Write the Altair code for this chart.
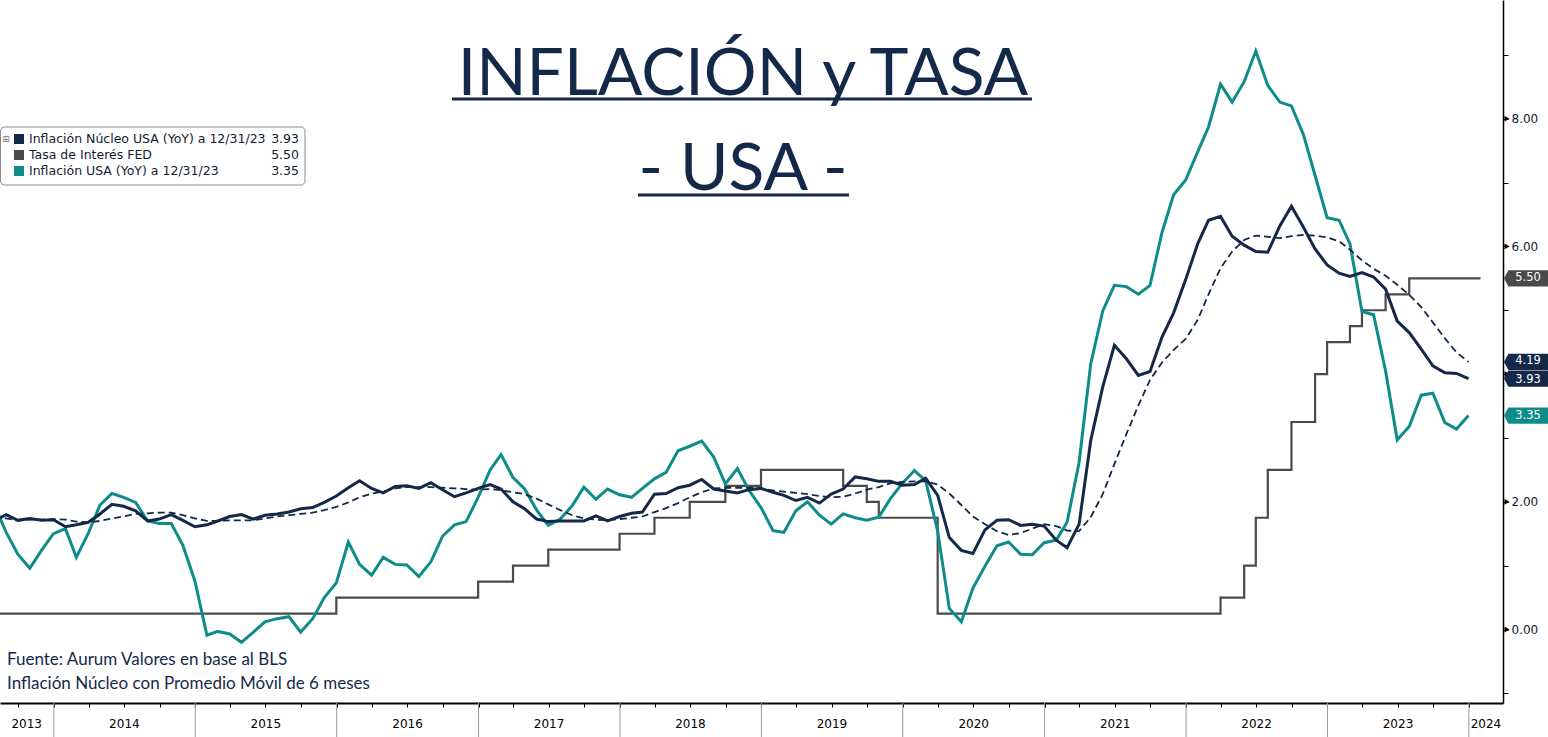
import altair as alt
import pandas as pd

NAVY = "#14294a"
TEAL = "#0e8c8a"
GRAY = "#4a4a4a"
TXT = "#111c33"
LBL_FONT = "DejaVu Sans"
TITLE_FONT = "Lato"

# Monthly values, month-end, Jul 2013 .. Dec 2023
cpi = [
    1.96, 1.52, 1.18, 0.96, 1.24, 1.50,
    1.58, 1.13, 1.51, 1.95, 2.13, 2.07, 1.99, 1.70, 1.66, 1.66, 1.32, 0.76,
    -0.09, -0.03, -0.07, -0.20, -0.04, 0.12, 0.17, 0.20, -0.04, 0.17, 0.50, 0.73,
    1.37, 1.02, 0.85, 1.13, 1.02, 1.01, 0.83, 1.06, 1.46, 1.64, 1.69, 2.07,
    2.50, 2.74, 2.38, 2.20, 1.87, 1.63, 1.73, 1.94, 2.23, 2.04, 2.20, 2.11,
    2.07, 2.21, 2.36, 2.46, 2.80, 2.87, 2.95, 2.70, 2.28, 2.52, 2.18, 1.91,
    1.55, 1.52, 1.86, 2.00, 1.79, 1.65, 1.81, 1.75, 1.71, 1.76, 2.05, 2.29,
    2.49, 2.33, 1.54, 0.33, 0.12, 0.65, 0.99, 1.31, 1.37, 1.18, 1.17, 1.36,
    1.40, 1.68, 2.62, 4.16, 4.99, 5.39, 5.37, 5.25, 5.39, 6.22, 6.81, 7.04,
    7.48, 7.87, 8.54, 8.26, 8.58, 9.06, 8.52, 8.26, 8.20, 7.75, 7.11, 6.45,
    6.41, 6.04, 4.98, 4.93, 4.05, 2.97, 3.18, 3.67, 3.70, 3.24, 3.14, 3.35,
]
core = [
    1.70, 1.80, 1.71, 1.74, 1.71, 1.72,
    1.61, 1.64, 1.68, 1.81, 1.96, 1.93, 1.86, 1.70, 1.73, 1.80, 1.71, 1.61,
    1.64, 1.70, 1.77, 1.80, 1.73, 1.79, 1.81, 1.84, 1.89, 1.91, 1.99, 2.09,
    2.22, 2.33, 2.21, 2.14, 2.24, 2.25, 2.21, 2.30, 2.19, 2.08, 2.14, 2.21,
    2.27, 2.20, 2.00, 1.89, 1.73, 1.69, 1.70, 1.70, 1.70, 1.78, 1.70, 1.77,
    1.82, 1.84, 2.12, 2.13, 2.22, 2.26, 2.35, 2.20, 2.17, 2.14, 2.19, 2.21,
    2.15, 2.10, 2.02, 2.07, 1.98, 2.12, 2.20, 2.39, 2.36, 2.32, 2.32, 2.26,
    2.27, 2.37, 2.10, 1.44, 1.24, 1.19, 1.56, 1.71, 1.72, 1.63, 1.65, 1.62,
    1.40, 1.28, 1.65, 2.96, 3.80, 4.45, 4.24, 3.98, 4.04, 4.58, 4.96, 5.48,
    6.04, 6.41, 6.47, 6.16, 6.02, 5.92, 5.91, 6.32, 6.63, 6.30, 5.96, 5.71,
    5.58, 5.53, 5.59, 5.52, 5.33, 4.83, 4.65, 4.39, 4.13, 4.02, 4.01, 3.93,
]
core_ma6 = [
    1.78, 1.74, 1.71, 1.72, 1.72, 1.73,
    1.72, 1.69, 1.68, 1.70, 1.74, 1.77, 1.81, 1.82, 1.83, 1.83, 1.79, 1.74,
    1.70, 1.70, 1.71, 1.71, 1.71, 1.74, 1.77, 1.79, 1.81, 1.83, 1.87, 1.92,
    1.99, 2.07, 2.13, 2.16, 2.21, 2.23, 2.23, 2.23, 2.22, 2.21, 2.20, 2.19,
    2.20, 2.18, 2.15, 2.12, 2.05, 1.96, 1.87, 1.79, 1.74, 1.72, 1.71, 1.73,
    1.75, 1.77, 1.84, 1.90, 1.98, 2.07, 2.15, 2.21, 2.22, 2.22, 2.22, 2.21,
    2.18, 2.16, 2.14, 2.12, 2.09, 2.07, 2.08, 2.13, 2.19, 2.23, 2.29, 2.31,
    2.32, 2.32, 2.27, 2.13, 1.95, 1.77, 1.65, 1.54, 1.48, 1.51, 1.58, 1.65,
    1.62, 1.55, 1.54, 1.76, 2.12, 2.59, 3.06, 3.51, 3.91, 4.18, 4.38, 4.55,
    4.85, 5.25, 5.66, 5.92, 6.10, 6.17, 6.15, 6.13, 6.16, 6.18, 6.17, 6.14,
    6.08, 5.95, 5.78, 5.65, 5.54, 5.40, 5.24, 5.05, 4.81, 4.56, 4.34, 4.19,
]
# Fed funds (upper bound), month-end, Jul 2013 .. Jan 2024
fed = [
    0.25, 0.25, 0.25, 0.25, 0.25, 0.25,
    0.25, 0.25, 0.25, 0.25, 0.25, 0.25, 0.25, 0.25, 0.25, 0.25, 0.25, 0.25,
    0.25, 0.25, 0.25, 0.25, 0.25, 0.25, 0.25, 0.25, 0.25, 0.25, 0.25, 0.50,
    0.50, 0.50, 0.50, 0.50, 0.50, 0.50, 0.50, 0.50, 0.50, 0.50, 0.50, 0.75,
    0.75, 0.75, 1.00, 1.00, 1.00, 1.25, 1.25, 1.25, 1.25, 1.25, 1.25, 1.50,
    1.50, 1.50, 1.75, 1.75, 1.75, 2.00, 2.00, 2.00, 2.25, 2.25, 2.25, 2.50,
    2.50, 2.50, 2.50, 2.50, 2.50, 2.50, 2.25, 2.25, 2.00, 1.75, 1.75, 1.75,
    1.75, 1.75, 0.25, 0.25, 0.25, 0.25, 0.25, 0.25, 0.25, 0.25, 0.25, 0.25,
    0.25, 0.25, 0.25, 0.25, 0.25, 0.25, 0.25, 0.25, 0.25, 0.25, 0.25, 0.25,
    0.25, 0.25, 0.50, 0.50, 1.00, 1.75, 2.50, 2.50, 3.25, 3.25, 4.00, 4.50,
    4.50, 4.75, 5.00, 5.00, 5.25, 5.25, 5.50, 5.50, 5.50, 5.50, 5.50, 5.50,
    5.50,
]

legend_labels = ["Inflación Núcleo USA (YoY) a 12/31/23", "Tasa de Interés FED", "Inflación USA (YoY) a 12/31/23"]
legend_values = [f"{core[-1]:.2f}", f"{fed[-1]:.2f}", f"{cpi[-1]:.2f}"]
legend_colors = [NAVY, GRAY, TEAL]

years = list(range(2013, 2025))
y_ticks = list(range(-1, 10))
y_marked = [0, 2, 4, 6, 8]
y_labeled = [0, 2, 6, 8]   # 4.00 sits behind the last-value tags

months = pd.date_range("2013-07-31", periods=len(fed), freq=pd.offsets.MonthEnd())
date_str = [d.strftime("%Y/%m/%d") for d in months]

main = pd.DataFrame({"date": date_str[:len(core)], "core": core, "cpi": cpi, "ma6": core_ma6})
fed_df = pd.DataFrame({"date": date_str, "fed": fed})

x_start = pd.Timestamp("2013-08-15")
x_end = pd.Timestamp("2024-03-29")

# year separators & centred year labels
sep_df = pd.DataFrame({"date": [f"{y}/01/01" for y in years[1:]]})
mids = []
for y in years:
    a = max(x_start, pd.Timestamp(f"{y}-01-01"))
    b = min(x_end, pd.Timestamp(f"{y + 1}-01-01"))
    mids.append((a + (b - a) / 2).strftime("%Y/%m/%d"))
year_df = pd.DataFrame({"date": mids, "label": [str(y) for y in years]})

quarters = []
for y in range(2013, 2025):
    for m in (1, 4, 7, 10):
        t = pd.Timestamp(year=y, month=m, day=1)
        if x_start <= t <= x_end:
            quarters.append(alt.DateTime(year=y, month=m, date=1))

x_scale = alt.Scale(domain=[alt.DateTime(year=2013, month=8, date=15),
                            alt.DateTime(year=2024, month=3, date=29)])
x_axis = alt.Axis(values=quarters, labels=False, grid=False, title=None,
                  domainColor="black", domainWidth=2, tickColor="black",
                  tickSize=4, tickWidth=1)


def X(field):
    return alt.X(field, type="temporal", scale=x_scale, axis=x_axis)


label_test = " || ".join(f"datum.value === {v}" for v in y_labeled)
y_scale = alt.Scale(domain=[-1.151, 9.859], nice=False, zero=False)
y_axis = alt.Axis(orient="right", values=y_ticks, grid=False, title=None,
                  labelExpr=f"({label_test}) ? format(datum.value, '.2f') : ''",
                  domainColor="black", domainWidth=1.5, tickColor="black",
                  tickSize=5, tickWidth=1, labelColor=TXT, labelFont=LBL_FONT,
                  labelFontSize=12, labelPadding=3)


def Y(field):
    return alt.Y(field, type="quantitative", scale=y_scale, axis=y_axis)


one = pd.DataFrame({"a": [0]})

fed_line = alt.Chart(fed_df).mark_line(interpolate="step-after", color=GRAY, strokeWidth=2.2, clip=True).encode(
    x=X("date"), y=Y("fed"))
cpi_line = alt.Chart(main).mark_line(color=TEAL, strokeWidth=3, clip=True).encode(x=X("date"), y=Y("cpi"))
core_line = alt.Chart(main).mark_line(color=NAVY, strokeWidth=3, clip=True).encode(x=X("date"), y=Y("core"))
ma_line = alt.Chart(main).mark_line(color=NAVY, strokeWidth=1.8, strokeDash=[7, 4], clip=True).encode(
    x=X("date"), y=Y("ma6"))

seps = alt.Chart(sep_df).mark_rule(color="#9a9a9a", strokeWidth=1).encode(
    x=X("date"), y=alt.value(703), y2=alt.value(737))
year_txt = alt.Chart(year_df).mark_text(font=LBL_FONT, fontSize=12, color="black", baseline="middle").encode(
    x=X("date"), y=alt.value(724), text="label:N")

tri_df = pd.DataFrame({"t": y_marked})
tris = alt.Chart(tri_df).mark_point(shape="triangle-right", filled=True, size=34, color="black", opacity=1).encode(
    x=alt.value(1507), y=Y("t"))

box_df = pd.DataFrame({
    "v": [fed[-1], core_ma6[-1], core[-1], cpi[-1]],
    "c": [GRAY, NAVY, NAVY, TEAL],
})
box_df["txt"] = [f"{v:.2f}" for v in box_df["v"]]
box_df["k"] = list(range(len(box_df)))
box_path = "M -1 0 L -0.8 -0.37 L 1 -0.37 L 1 0.37 L -0.8 0.37 Z"
boxes = alt.Chart(box_df).mark_point(shape=box_path, filled=True, size=1936, opacity=1).encode(
    x=alt.value(1526), y=Y("v"), color=alt.Color("c:N", scale=None))


def box_text(k, dy):
    return alt.Chart(box_df).transform_filter(alt.datum.k == k).mark_text(
        font=LBL_FONT, fontSize=11.5, color="white", baseline="middle", dy=dy).encode(
        x=alt.value(1528), y=Y("v"), text="txt:N")


box_txts = [box_text(0, 0), box_text(1, -1), box_text(2, 1), box_text(3, 0)]

# title
t1 = alt.Chart(one).mark_text(font=TITLE_FONT, fontSize=66, fontWeight=400, color=NAVY, align="center",
                              baseline="alphabetic", text="INFLACIÓN y TASA").encode(x=alt.value(743), y=alt.value(95))
t2 = alt.Chart(one).mark_text(font=TITLE_FONT, fontSize=66, fontWeight=400, color=NAVY, align="center",
                              baseline="alphabetic", text="- USA -").encode(x=alt.value(743), y=alt.value(190))
u1 = alt.Chart(one).mark_rule(color=NAVY, strokeWidth=3).encode(x=alt.value(452), x2=alt.value(1032), y=alt.value(99))
u2 = alt.Chart(one).mark_rule(color=NAVY, strokeWidth=3).encode(x=alt.value(638), x2=alt.value(849), y=alt.value(195))

# notes
n1 = alt.Chart(one).mark_text(font=TITLE_FONT, fontSize=17, color=NAVY, align="left", baseline="alphabetic",
                              text="Fuente: Aurum Valores en base al BLS").encode(x=alt.value(7), y=alt.value(665))
n2 = alt.Chart(one).mark_text(font=TITLE_FONT, fontSize=17, color=NAVY, align="left", baseline="alphabetic",
                              text="Inflación Núcleo con Promedio Móvil de 6 meses").encode(x=alt.value(7), y=alt.value(689))

# legend box
leg_layers = [
    alt.Chart(one).mark_rect(fill="white", stroke="#8a8a8a", strokeWidth=1, cornerRadius=4).encode(
        x=alt.value(0.5), x2=alt.value(305), y=alt.value(127), y2=alt.value(185)),
    alt.Chart(one).mark_text(font="DejaVu Sans", fontSize=9, color="#777777", baseline="middle",
                             text="⊞").encode(x=alt.value(6), y=alt.value(139)),
]
for i, (lab, val, col) in enumerate(zip(legend_labels, legend_values, legend_colors)):
    yy = 139 + 16 * i
    leg_layers.append(alt.Chart(one).mark_square(size=100, filled=True, color=col, opacity=1).encode(
        x=alt.value(19), y=alt.value(yy)))
    leg_layers.append(alt.Chart(one).mark_text(font=LBL_FONT, fontSize=12.5, color=TXT, align="left",
                                               baseline="middle", text=lab).encode(x=alt.value(29), y=alt.value(yy)))
    leg_layers.append(alt.Chart(one).mark_text(font=LBL_FONT, fontSize=12.5, color=TXT, align="right",
                                               baseline="middle", text=val).encode(x=alt.value(299), y=alt.value(yy)))

chart = alt.layer(
    seps, year_txt, fed_line, cpi_line, core_line, ma_line, tris, boxes, *box_txts,
    t1, t2, u1, u2, n1, n2, *leg_layers
).properties(
    width=1503, height=703,
    autosize=alt.AutoSizeParams(type="none"),
    padding={"left": 0, "top": 0, "right": 45, "bottom": 34},
    background="white",
).configure_view(stroke=None)

chart.save("out.html", embed_options={"renderer": "svg", "actions": False})
